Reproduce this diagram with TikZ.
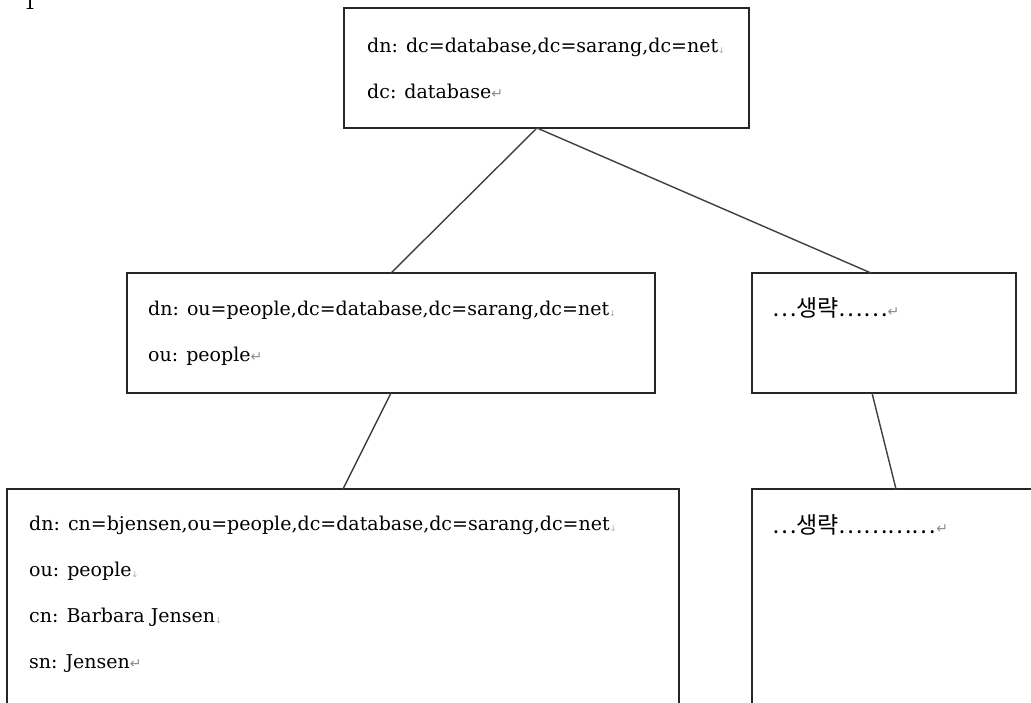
\documentclass[tikz,border=0pt]{standalone}
\usepackage{fontspec}
\setmainfont{DejaVu Serif}
\newfontfamily\krfont{Noto Sans CJK KR}
\newfontfamily\markfont{DejaVu Sans}
\usetikzlibrary{calc}

% editing marks: manual line break and paragraph end
\newcommand\brkmark{{\markfont\color{black!35}\fontsize{8}{8}\selectfont\raisebox{-1pt}{↓}}}
\newcommand\parmark{{\markfont\color{black!45}\fontsize{14}{14}\selectfont ↵}}

\tikzset{
  entry/.style={draw=black!85, line width=1.6pt, fill=white, anchor=north west,
                inner sep=0pt, outer sep=0pt},
  link/.style={draw=black!75, line width=1.4pt},
  txt/.style={anchor=base west, inner sep=0pt, font=\fontsize{19}{19}\selectfont},
  krtxt/.style={anchor=base west, inner sep=0pt, font=\krfont\fontsize{23}{23}\selectfont},
}

\begin{document}
\begin{tikzpicture}[x=1pt, y=-1pt]
\useasboundingbox[fill=white] (0,0) rectangle (1031,702);

% page number fragment at the top edge
\node[txt] (pg) at (24,9) {1};

% entry boxes
\node[entry, minimum width=405pt, minimum height=120pt] (root) at (344,8) {};
\node[entry, minimum width=528pt, minimum height=120pt] (people) at (127,273) {};
\node[entry, minimum width=264pt, minimum height=120pt] (other) at (752,273) {};
\node[entry, minimum width=672pt, minimum height=240pt] (person) at (7,489) {};
\node[entry, minimum width=300pt, minimum height=240pt] (more) at (752,489) {};

% connectors between the entries
\coordinate (rootfoot) at (537,128);
\coordinate (othertop) at (871,273);
\coordinate (otherfoot) at (872,393);
\coordinate (moretop) at (896,489);
\draw[link] (rootfoot) -- (people.north);
\draw[link] (rootfoot) -- (othertop);
\draw[link] (people.south) -- (person.north);
\draw[link] (otherfoot) -- (moretop);

% root entry
\node[txt] (r1) at (367,52) {dn: dc=database,dc=sarang,dc=net\brkmark};
\node[txt] (r2) at (367,98) {dc: database\parmark};

% organisational unit
\node[txt] (p1) at (148,315) {dn: ou=people,dc=database,dc=sarang,dc=net\brkmark};
\node[txt] (p2) at (148,361) {ou: people\parmark};

% omitted sibling
\node[krtxt] (o1) at (772,316) {…생략……\parmark};

% person entry
\node[txt] (e1) at (29,530) {dn: cn=bjensen,ou=people,dc=database,dc=sarang,dc=net\brkmark};
\node[txt] (e2) at (29,576) {ou: people\brkmark};
\node[txt] (e3) at (29,622) {cn: Barbara Jensen\brkmark};
\node[txt] (e4) at (29,668) {sn: Jensen\parmark};

% omitted children
\node[krtxt] (m1) at (772,533) {…생략…………\parmark};
\end{tikzpicture}
\end{document}
